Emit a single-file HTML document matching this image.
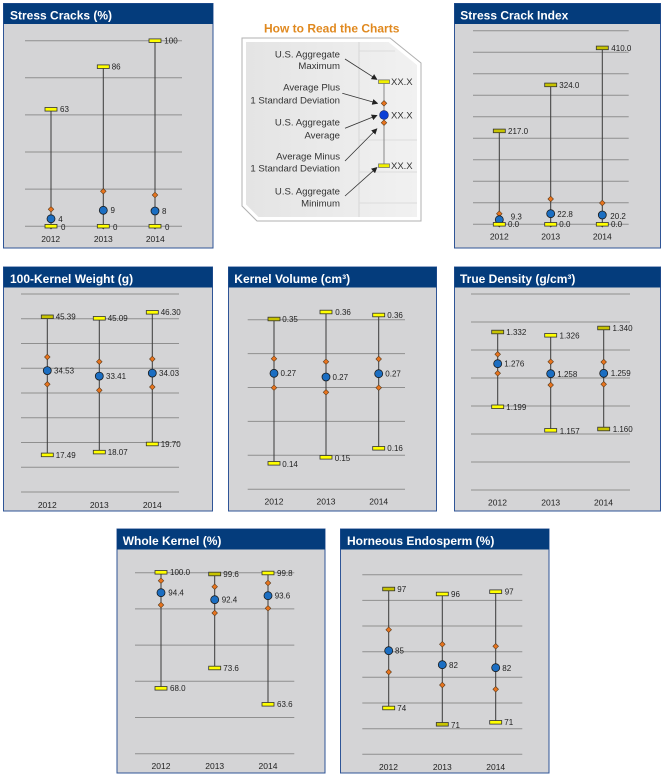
<!DOCTYPE html>
<html><head><meta charset="utf-8"><style>
html,body{margin:0;padding:0;background:#fff;}
svg{display:block;}
.t{font-family:"Liberation Sans",Arial,sans-serif;font-weight:bold;font-size:12px;fill:#fff;}
.l{font-family:"Liberation Sans",Arial,sans-serif;font-size:8px;fill:#222;}
.y{font-family:"Liberation Sans",Arial,sans-serif;font-size:8.5px;fill:#222;text-anchor:middle;}
.g{stroke:#8f8f8f;stroke-width:1;}
.v{stroke:#3a3a3a;stroke-width:1;}
.lg{font-family:"Liberation Sans",Arial,sans-serif;font-size:9.6px;fill:#333;text-anchor:end;}
.lx{font-family:"Liberation Sans",Arial,sans-serif;font-size:9.5px;fill:#333;}
</style></head><body>
<svg width="667" height="781" viewBox="0 0 667 781" xmlns="http://www.w3.org/2000/svg">
<defs>
<rect id="yb" x="-6" y="-1.8" width="12" height="3.6" fill="#ffff00" stroke="#333" stroke-width="0.8"/>
<rect id="ob" x="-6" y="-1.8" width="12" height="3.6" fill="#c8c400" stroke="#333" stroke-width="0.8"/>
<circle id="bc" r="4" fill="#1b6ec2" stroke="#1a1a1a" stroke-width="0.8"/>
<path id="dm" d="M0,-2.8 L2.8,0 L0,2.8 L-2.8,0Z" fill="#e8741e" stroke="#5a3a1a" stroke-width="0.6"/>
<path id="dk" d="M0,-2.6 L2.6,0 L0,2.6 L-2.6,0Z" fill="#444" stroke="#333" stroke-width="0.5"/>
<marker id="ah" markerWidth="6" markerHeight="6" refX="5" refY="3" orient="auto" markerUnits="userSpaceOnUse"><path d="M0,0 L6,3 L0,6Z" fill="#222"/></marker>
<linearGradient id="lgr" x1="0" y1="0" x2="1" y2="0"><stop offset="0" stop-color="#e4e4e4"/><stop offset="1" stop-color="#f1f1f1"/></linearGradient>
</defs>

<!-- Panel 1: Stress Cracks -->
<rect x="3.5" y="3.5" width="209.5" height="244.5" fill="#d4d4d6" stroke="#2f5597" stroke-width="1"/>
<rect x="3.5" y="3.5" width="209.5" height="20.5" fill="#043c7c"/>
<text class="t" x="10" y="19.5">Stress Cracks (%)</text>
<g class="g"><line x1="25" x2="182" y1="40.7" y2="40.7"/><line x1="25" x2="182" y1="77.8" y2="77.8"/><line x1="25" x2="182" y1="114.9" y2="114.9"/><line x1="25" x2="182" y1="152" y2="152"/><line x1="25" x2="182" y1="189.1" y2="189.1"/><line x1="25" x2="182" y1="226.2" y2="226.2"/></g>
<line class="v" x1="51" x2="51" y1="109.3" y2="226.2"/>
<use href="#dm" x="51" y="209.3"/><use href="#dk" x="51" y="226.6"/><use href="#bc" x="51" y="218.8"/><use href="#yb" x="51" y="109.3"/><use href="#yb" x="51" y="226.2"/>
<text class="l" x="60" y="112.2">63</text><text class="l" x="58.3" y="222.2">4</text><text class="l" x="61" y="229.9">0</text>
<line class="v" x1="103.3" x2="103.3" y1="66.7" y2="226.2"/>
<use href="#dm" x="103.3" y="191.3"/><use href="#dk" x="103.3" y="226.6"/><use href="#bc" x="103.3" y="210.3"/><use href="#yb" x="103.3" y="66.7"/><use href="#yb" x="103.3" y="226.2"/>
<text class="l" x="111.7" y="69.6">86</text><text class="l" x="110.5" y="213.2">9</text><text class="l" x="113" y="229.9">0</text>
<line class="v" x1="155" x2="155" y1="40.7" y2="226.2"/>
<use href="#dm" x="155" y="195"/><use href="#dk" x="155" y="226.6"/><use href="#bc" x="155" y="211"/><use href="#yb" x="155" y="40.7"/><use href="#yb" x="155" y="226.2"/>
<text class="l" x="164.3" y="43.6">100</text><text class="l" x="162" y="213.9">8</text><text class="l" x="165" y="229.9">0</text>
<text class="y" x="50.7" y="242">2012</text><text class="y" x="103.3" y="242">2013</text><text class="y" x="155.3" y="242">2014</text>

<!-- Legend -->
<text x="331.7" y="32.7" text-anchor="middle" style="font-family:'Liberation Sans',Arial,sans-serif;font-weight:bold;font-size:12px;fill:#e0891f">How to Read the Charts</text>
<polygon points="242,38 390,38 421,63 421,221 257,221 242,206" fill="#fff" stroke="#b0b0b0" stroke-width="1"/>
<polygon points="246,42 388.5,42 417,65 417,217 258.5,217 246,204.5" fill="url(#lgr)"/>
<line x1="359" x2="359" y1="42" y2="217" stroke="#d6d6d6" stroke-width="1"/>
<g stroke="#dcdcdc" stroke-width="1"><line x1="359" x2="395" y1="51" y2="51"/><line x1="359" x2="417" y1="140" y2="140"/><line x1="359" x2="417" y1="172" y2="172"/><line x1="359" x2="417" y1="203" y2="203"/></g>
<line x1="384" x2="384" y1="81.7" y2="165.7" stroke="#888" stroke-width="1"/>
<rect x="378.5" y="79.9" width="11" height="3.6" fill="#f0f000" stroke="#666" stroke-width="0.7"/>
<rect x="378.5" y="163.9" width="11" height="3.6" fill="#f0f000" stroke="#666" stroke-width="0.7"/>
<use href="#dm" x="384" y="103.3"/><use href="#dm" x="384" y="122.7"/>
<circle cx="384" cy="115" r="4.4" fill="#0a3fd6" stroke="#1a2a6a" stroke-width="0.6"/>
<text class="lx" x="391" y="85">XX.X</text><text class="lx" x="391" y="118.3">XX.X</text><text class="lx" x="391" y="169">XX.X</text>
<text class="lg" x="340" y="57.3">U.S. Aggregate</text><text class="lg" x="340" y="69">Maximum</text>
<text class="lg" x="340" y="90.6">Average Plus</text><text class="lg" x="340" y="103.3">1 Standard Deviation</text>
<text class="lg" x="340" y="125.6">U.S. Aggregate</text><text class="lg" x="340" y="138.3">Average</text>
<text class="lg" x="340" y="159.3">Average Minus</text><text class="lg" x="340" y="171.3">1 Standard Deviation</text>
<text class="lg" x="340" y="194.3">U.S. Aggregate</text><text class="lg" x="340" y="206.6">Minimum</text>
<g stroke="#333" stroke-width="0.8" marker-end="url(#ah)">
<line x1="345" y1="59" x2="376.7" y2="79.3"/>
<line x1="342.3" y1="93.3" x2="377.3" y2="103.3"/>
<line x1="345" y1="128.3" x2="376.7" y2="115.5"/>
<line x1="345" y1="161" x2="376.7" y2="129"/>
<line x1="345" y1="196" x2="376.7" y2="167.7"/>
</g>

<!-- Panel: Stress Crack Index -->
<rect x="454.5" y="3.5" width="206" height="244.5" fill="#d4d4d6" stroke="#2f5597" stroke-width="1"/>
<rect x="454.5" y="3.5" width="206" height="20.5" fill="#043c7c"/>
<text class="t" x="460.3" y="19.5">Stress Crack Index</text>
<g class="g"><line x1="473" x2="628.7" y1="30.7" y2="30.7"/><line x1="473" x2="628.7" y1="52.2" y2="52.2"/><line x1="473" x2="628.7" y1="73.7" y2="73.7"/><line x1="473" x2="628.7" y1="95.2" y2="95.2"/><line x1="473" x2="628.7" y1="116.7" y2="116.7"/><line x1="473" x2="628.7" y1="138.3" y2="138.3"/><line x1="473" x2="628.7" y1="159.8" y2="159.8"/><line x1="473" x2="628.7" y1="181.3" y2="181.3"/><line x1="473" x2="628.7" y1="202.8" y2="202.8"/><line x1="473" x2="628.7" y1="224.3" y2="224.3"/></g>
<line class="v" x1="499.3" x2="499.3" y1="130.9" y2="224.3"/>
<use href="#dm" x="499.3" y="213.7"/><use href="#dk" x="499.3" y="224.7"/><use href="#bc" x="499.3" y="219.7"/><use href="#ob" x="499.3" y="130.9"/><use href="#yb" x="499.3" y="224.3"/>
<text class="l" x="508" y="133.8">217.0</text><text class="l" x="510.7" y="219.6">9.3</text><text class="l" x="508" y="227.2">0.0</text>
<line class="v" x1="550.7" x2="550.7" y1="84.9" y2="224.3"/>
<use href="#dm" x="550.7" y="199"/><use href="#dk" x="550.7" y="224.7"/><use href="#bc" x="550.7" y="213.7"/><use href="#ob" x="550.7" y="84.9"/><use href="#yb" x="550.7" y="224.3"/>
<text class="l" x="559.3" y="87.8">324.0</text><text class="l" x="557.3" y="217.2">22.8</text><text class="l" x="559.3" y="227.2">0.0</text>
<line class="v" x1="602.3" x2="602.3" y1="47.9" y2="224.3"/>
<use href="#dm" x="602.3" y="203"/><use href="#dk" x="602.3" y="224.7"/><use href="#bc" x="602.3" y="215"/><use href="#ob" x="602.3" y="47.9"/><use href="#yb" x="602.3" y="224.3"/>
<text class="l" x="611.3" y="50.8">410.0</text><text class="l" x="610.3" y="218.9">20.2</text><text class="l" x="611" y="227.2">0.0</text>
<text class="y" x="499.3" y="239.5">2012</text><text class="y" x="550.7" y="239.5">2013</text><text class="y" x="602.3" y="239.5">2014</text>

<!-- Panel: 100-Kernel Weight -->
<rect x="3.5" y="267" width="209" height="244" fill="#d4d4d6" stroke="#2f5597" stroke-width="1"/>
<rect x="3.5" y="267" width="209" height="20.5" fill="#043c7c"/>
<text class="t" x="10" y="283">100-Kernel Weight (g)</text>
<g class="g"><line x1="21" x2="179" y1="294" y2="294"/><line x1="21" x2="179" y1="318.75" y2="318.75"/><line x1="21" x2="179" y1="343.5" y2="343.5"/><line x1="21" x2="179" y1="368.25" y2="368.25"/><line x1="21" x2="179" y1="393" y2="393"/><line x1="21" x2="179" y1="417.75" y2="417.75"/><line x1="21" x2="179" y1="442.5" y2="442.5"/><line x1="21" x2="179" y1="467.25" y2="467.25"/><line x1="21" x2="179" y1="492" y2="492"/></g>
<line class="v" x1="47.3" x2="47.3" y1="316.8" y2="454.9"/>
<use href="#dm" x="47.3" y="357"/><use href="#dm" x="47.3" y="384.3"/><use href="#bc" x="47.3" y="370.6"/><use href="#ob" x="47.3" y="316.8"/><use href="#yb" x="47.3" y="454.9"/>
<text class="l" x="55.7" y="319.7">45.39</text><text class="l" x="54" y="373.5">34.53</text><text class="l" x="55.7" y="457.8">17.49</text>
<line class="v" x1="99.3" x2="99.3" y1="318.3" y2="452.1"/>
<use href="#dm" x="99.3" y="361.7"/><use href="#dm" x="99.3" y="390.3"/><use href="#bc" x="99.3" y="376.1"/><use href="#yb" x="99.3" y="318.3"/><use href="#yb" x="99.3" y="452.1"/>
<text class="l" x="107.7" y="321.2">45.09</text><text class="l" x="106" y="379">33.41</text><text class="l" x="107.7" y="455">18.07</text>
<line class="v" x1="152.3" x2="152.3" y1="312.3" y2="444"/>
<use href="#dm" x="152.3" y="359"/><use href="#dm" x="152.3" y="387"/><use href="#bc" x="152.3" y="373.1"/><use href="#yb" x="152.3" y="312.3"/><use href="#yb" x="152.3" y="444"/>
<text class="l" x="160.7" y="315.2">46.30</text><text class="l" x="159" y="376">34.03</text><text class="l" x="160.7" y="446.9">19.70</text>
<text class="y" x="47.3" y="508">2012</text><text class="y" x="99.3" y="508">2013</text><text class="y" x="152.3" y="508">2014</text>

<!-- Panel: Kernel Volume -->
<rect x="228.5" y="267" width="208" height="244" fill="#d4d4d6" stroke="#2f5597" stroke-width="1"/>
<rect x="228.5" y="267" width="208" height="20.5" fill="#043c7c"/>
<text class="t" x="234.3" y="283">Kernel Volume (cm³)</text>
<g class="g"><line x1="247.7" x2="405" y1="319.7" y2="319.7"/><line x1="247.7" x2="405" y1="353.6" y2="353.6"/><line x1="247.7" x2="405" y1="387.5" y2="387.5"/><line x1="247.7" x2="405" y1="421.4" y2="421.4"/><line x1="247.7" x2="405" y1="455.3" y2="455.3"/><line x1="247.7" x2="405" y1="489.2" y2="489.2"/></g>
<line class="v" x1="274" x2="274" y1="319" y2="463.3"/>
<use href="#dm" x="274" y="358.7"/><use href="#dm" x="274" y="387.7"/><use href="#bc" x="274" y="373.3"/><use href="#ob" x="274" y="319"/><use href="#yb" x="274" y="463.3"/>
<text class="l" x="282.3" y="322.2">0.35</text><text class="l" x="280.5" y="376.2">0.27</text><text class="l" x="282.3" y="466.9">0.14</text>
<line class="v" x1="326" x2="326" y1="312" y2="457.3"/>
<use href="#dm" x="326" y="361.7"/><use href="#dm" x="326" y="392.3"/><use href="#bc" x="326" y="377"/><use href="#yb" x="326" y="312"/><use href="#yb" x="326" y="457.3"/>
<text class="l" x="335.3" y="314.9">0.36</text><text class="l" x="332.5" y="379.9">0.27</text><text class="l" x="334.7" y="460.9">0.15</text>
<line class="v" x1="378.7" x2="378.7" y1="315" y2="448.3"/>
<use href="#dm" x="378.7" y="359"/><use href="#dm" x="378.7" y="387.7"/><use href="#bc" x="378.7" y="373.7"/><use href="#yb" x="378.7" y="315"/><use href="#yb" x="378.7" y="448.3"/>
<text class="l" x="387.3" y="317.9">0.36</text><text class="l" x="385.3" y="376.6">0.27</text><text class="l" x="387.3" y="451.2">0.16</text>
<text class="y" x="274" y="504.5">2012</text><text class="y" x="326" y="504.5">2013</text><text class="y" x="378.7" y="504.5">2014</text>

<!-- Panel: True Density -->
<rect x="454.5" y="267" width="206" height="244" fill="#d4d4d6" stroke="#2f5597" stroke-width="1"/>
<rect x="454.5" y="267" width="206" height="20.5" fill="#043c7c"/>
<text class="t" x="460" y="283">True Density (g/cm³)</text>
<g class="g"><line x1="471" x2="630" y1="294" y2="294"/><line x1="471" x2="630" y1="322" y2="322"/><line x1="471" x2="630" y1="350" y2="350"/><line x1="471" x2="630" y1="378" y2="378"/><line x1="471" x2="630" y1="406" y2="406"/><line x1="471" x2="630" y1="434" y2="434"/><line x1="471" x2="630" y1="462" y2="462"/><line x1="471" x2="630" y1="490" y2="490"/></g>
<line class="v" x1="497.7" x2="497.7" y1="332" y2="406.8"/>
<use href="#dm" x="497.7" y="354.3"/><use href="#dm" x="497.7" y="373.3"/><use href="#bc" x="497.7" y="363.7"/><use href="#ob" x="497.7" y="332"/><use href="#yb" x="497.7" y="406.8"/>
<text class="l" x="506.3" y="334.9">1.332</text><text class="l" x="504.3" y="366.6">1.276</text><text class="l" x="506.3" y="410.2">1.199</text>
<line class="v" x1="550.7" x2="550.7" y1="335.3" y2="430.3"/>
<use href="#dm" x="550.7" y="361.7"/><use href="#dm" x="550.7" y="385"/><use href="#bc" x="550.7" y="373.7"/><use href="#yb" x="550.7" y="335.3"/><use href="#yb" x="550.7" y="430.3"/>
<text class="l" x="559.5" y="338.6">1.326</text><text class="l" x="557.3" y="376.9">1.258</text><text class="l" x="559.7" y="434.2">1.157</text>
<line class="v" x1="603.7" x2="603.7" y1="328" y2="429"/>
<use href="#dm" x="603.7" y="362"/><use href="#dm" x="603.7" y="384.3"/><use href="#bc" x="603.7" y="373.3"/><use href="#ob" x="603.7" y="328"/><use href="#ob" x="603.7" y="429"/>
<text class="l" x="612.5" y="330.9">1.340</text><text class="l" x="610.7" y="376.2">1.259</text><text class="l" x="612.7" y="431.9">1.160</text>
<text class="y" x="497.5" y="505.7">2012</text><text class="y" x="550.7" y="505.7">2013</text><text class="y" x="603.5" y="505.7">2014</text>

<!-- Panel: Whole Kernel -->
<rect x="117" y="529" width="208" height="244" fill="#d4d4d6" stroke="#2f5597" stroke-width="1"/>
<rect x="117" y="529" width="208" height="20.5" fill="#043c7c"/>
<text class="t" x="122.7" y="545">Whole Kernel (%)</text>
<g class="g"><line x1="135" x2="294.3" y1="572.7" y2="572.7"/><line x1="135" x2="294.3" y1="608.9" y2="608.9"/><line x1="135" x2="294.3" y1="645.1" y2="645.1"/><line x1="135" x2="294.3" y1="681.3" y2="681.3"/><line x1="135" x2="294.3" y1="717.5" y2="717.5"/><line x1="135" x2="294.3" y1="753.7" y2="753.7"/></g>
<line class="v" x1="161" x2="161" y1="572.3" y2="688.3"/>
<use href="#dm" x="161" y="580.7"/><use href="#dm" x="161" y="605"/><use href="#bc" x="161" y="592.7"/><use href="#yb" x="161" y="572.3"/><use href="#yb" x="161" y="688.3"/>
<text class="l" x="170" y="575.2">100.0</text><text class="l" x="168.3" y="595.6">94.4</text><text class="l" x="170" y="691.2">68.0</text>
<line class="v" x1="214.7" x2="214.7" y1="574" y2="668"/>
<use href="#dm" x="214.7" y="586.7"/><use href="#dm" x="214.7" y="613"/><use href="#bc" x="214.7" y="599.7"/><use href="#ob" x="214.7" y="574"/><use href="#yb" x="214.7" y="668"/>
<text class="l" x="223.3" y="577.2">99.6</text><text class="l" x="221.7" y="602.6">92.4</text><text class="l" x="223.3" y="670.9">73.6</text>
<line class="v" x1="268" x2="268" y1="573" y2="704.3"/>
<use href="#dm" x="268" y="583"/><use href="#dm" x="268" y="608.3"/><use href="#bc" x="268" y="595.7"/><use href="#yb" x="268" y="573"/><use href="#yb" x="268" y="704.3"/>
<text class="l" x="277" y="575.9">99.8</text><text class="l" x="274.7" y="598.6">93.6</text><text class="l" x="277" y="707.2">63.6</text>
<text class="y" x="161" y="769">2012</text><text class="y" x="214.7" y="769">2013</text><text class="y" x="268" y="769">2014</text>

<!-- Panel: Horneous Endosperm -->
<rect x="340.5" y="529" width="208.5" height="244" fill="#d4d4d6" stroke="#2f5597" stroke-width="1"/>
<rect x="340.5" y="529" width="208.5" height="20.5" fill="#043c7c"/>
<text class="t" x="347" y="545">Horneous Endosperm (%)</text>
<g class="g"><line x1="362.3" x2="522.3" y1="574.7" y2="574.7"/><line x1="362.3" x2="522.3" y1="600.4" y2="600.4"/><line x1="362.3" x2="522.3" y1="626" y2="626"/><line x1="362.3" x2="522.3" y1="651.7" y2="651.7"/><line x1="362.3" x2="522.3" y1="677.3" y2="677.3"/><line x1="362.3" x2="522.3" y1="703" y2="703"/><line x1="362.3" x2="522.3" y1="728.7" y2="728.7"/><line x1="362.3" x2="522.3" y1="754.3" y2="754.3"/></g>
<line class="v" x1="388.7" x2="388.7" y1="589" y2="708"/>
<use href="#dm" x="388.7" y="629.7"/><use href="#dm" x="388.7" y="672"/><use href="#bc" x="388.7" y="650.7"/><use href="#ob" x="388.7" y="589"/><use href="#yb" x="388.7" y="708"/>
<text class="l" x="397.3" y="591.9">97</text><text class="l" x="395" y="653.6">85</text><text class="l" x="397.3" y="711.2">74</text>
<line class="v" x1="442.3" x2="442.3" y1="594" y2="724.3"/>
<use href="#dm" x="442.3" y="644.3"/><use href="#dm" x="442.3" y="685"/><use href="#bc" x="442.3" y="664.7"/><use href="#yb" x="442.3" y="594"/><use href="#ob" x="442.3" y="724.3"/>
<text class="l" x="451" y="597.2">96</text><text class="l" x="449" y="667.9">82</text><text class="l" x="451" y="727.9">71</text>
<line class="v" x1="495.7" x2="495.7" y1="591.7" y2="722.3"/>
<use href="#dm" x="495.7" y="646.3"/><use href="#dm" x="495.7" y="689.3"/><use href="#bc" x="495.7" y="667.7"/><use href="#yb" x="495.7" y="591.7"/><use href="#yb" x="495.7" y="722.3"/>
<text class="l" x="504.7" y="594.6">97</text><text class="l" x="502.3" y="670.9">82</text><text class="l" x="504.3" y="725.2">71</text>
<text class="y" x="388.5" y="770">2012</text><text class="y" x="442.3" y="770">2013</text><text class="y" x="495.7" y="770">2014</text>
</svg>
</body></html>
